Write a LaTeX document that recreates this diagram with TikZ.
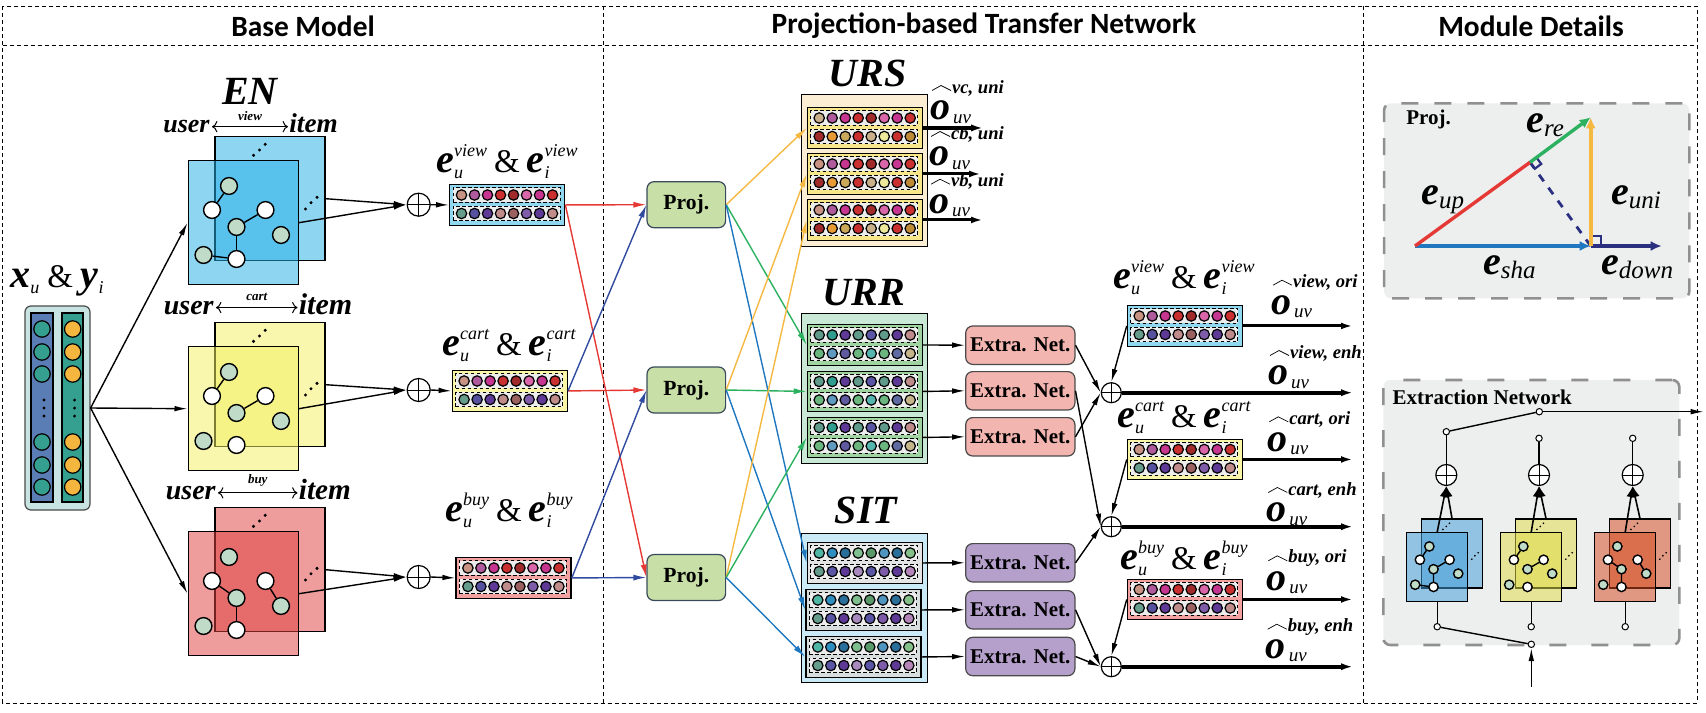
\documentclass[tikz,border=0pt]{standalone}
\usepackage{fontspec}
\setmainfont{Liberation Serif}
\newfontfamily\titlefont{Carlito}
\usetikzlibrary{arrows.meta}
\definecolor{ta}{HTML}{C99384}\definecolor{pu}{HTML}{B05A9E}\definecolor{ma}{HTML}{C6358F}
\definecolor{rd}{HTML}{C9302F}\definecolor{br}{HTML}{A12A2A}\definecolor{pk}{HTML}{D966A8}
\definecolor{gt}{HTML}{659C8C}\definecolor{iv}{HTML}{55519F}\definecolor{vi}{HTML}{5E3A96}
\definecolor{rs}{HTML}{C08B8B}\definecolor{mv}{HTML}{9B6060}\definecolor{lv}{HTML}{7F5CAA}
\definecolor{sd}{HTML}{C9B08A}\definecolor{og}{HTML}{E89A35}\definecolor{kh}{HTML}{C9A85A}
\definecolor{lm}{HTML}{EDE89A}\definecolor{oc}{HTML}{BE8A35}\definecolor{tl}{HTML}{5F9A8A}
\definecolor{sq}{HTML}{2F9E8F}\definecolor{sl}{HTML}{5A55A5}\definecolor{gr}{HTML}{6BB57F}
\definecolor{sk}{HTML}{5F9AC0}\definecolor{bv}{HTML}{5F5AA0}\definecolor{aq}{HTML}{55B5AF}
\definecolor{bs}{HTML}{5F6AA0}\definecolor{cr}{HTML}{C5B58A}\definecolor{cy}{HTML}{4FB5A5}
\definecolor{az}{HTML}{2F8EC0}\definecolor{nv}{HTML}{2A6F9A}\definecolor{lg}{HTML}{7FBF8F}
\definecolor{fg}{HTML}{5A9A6A}\definecolor{sb}{HTML}{4F95BF}\definecolor{ln}{HTML}{85C08A}
\definecolor{ll}{HTML}{A88ABF}\definecolor{mp}{HTML}{B585BA}
\definecolor{lred}{HTML}{E53935}\definecolor{lblue}{HTML}{2F4A9E}\definecolor{lyel}{HTML}{F5B942}
\definecolor{lgrn}{HTML}{2BB15F}\definecolor{lsky}{HTML}{1F77C0}\definecolor{lnavy}{HTML}{2A2F80}
\definecolor{c0dc}{HTML}{C0DCC8}\definecolor{c8e0}{HTML}{C8E0A8}\definecolor{slotgray}{HTML}{EDEDED}
\definecolor{boxedge}{HTML}{3A4A5A}\definecolor{netedge}{HTML}{4A4A4A}\definecolor{dgray}{HTML}{909090}
\definecolor{dfill}{HTML}{EDEEEE}\definecolor{c8e4}{HTML}{C8E4E2}\definecolor{colA}{HTML}{5B7DB5}
\definecolor{colB}{HTML}{35A08F}\definecolor{colC}{HTML}{F4B63F}\definecolor{mblue}{HTML}{27AFE6}
\definecolor{myel}{HTML}{F2EF61}\definecolor{mred}{HTML}{DE4141}\definecolor{dblue}{HTML}{419DD9}
\definecolor{dyel}{HTML}{E0DC48}\definecolor{dred}{HTML}{D54A20}\definecolor{c8d5}{HTML}{8FD8F0}
\definecolor{c8fa}{HTML}{FAF6A8}\definecolor{c8f2}{HTML}{F2A0A0}\definecolor{c8fb}{HTML}{FBEED5}
\definecolor{c8c9}{HTML}{C9E8D5}\definecolor{c8ca}{HTML}{C9EAF6}\definecolor{c8f8}{HTML}{F8E68A}
\definecolor{c89f}{HTML}{9FD3A0}\definecolor{c8dd}{HTML}{E4E4E4}\definecolor{c8d8}{HTML}{D8DEDE}
\definecolor{c8f5}{HTML}{F2B5B0}\definecolor{c8b5}{HTML}{B5A0CC}
\newcommand{\rowa}{ta,pu,ma,rd,br,pk,ma,rd}
\newcommand{\rowb}{gt,iv,vi,rs,mv,lv,vi,rs}
\newcommand{\rowc}{sd,pu,ma,rd,br,pk,ma,rd}
\newcommand{\rowd}{br,og,kh,rd,sd,lm,rd,oc}
\newcommand{\rowe}{tl,sq,vi,tl,sl,tl,vi,rs}
\newcommand{\rowf}{gr,sk,bv,gr,aq,gr,bs,cr}
\newcommand{\rowg}{cy,az,nv,lg,fg,sb,nv,ln}
\newcommand{\rowh}{gt,sl,vi,ll,sl,lv,vi,mp}
\newcommand{\fs}[1]{\fontsize{#1}{#1}\selectfont}
\newcommand{\ltr}[1]{{\fs{20}\bfseries\itshape #1}}
\newcommand{\supsub}[2]{\rlap{\raisebox{-3pt}{\fs{9}\itshape #2}}\raisebox{8pt}{\fs{9}\itshape #1}}
\tikzset{
 arr/.style={line width=.7pt,-{Latex[length=6.5pt,width=2.8pt]}},
 colarr/.style={line width=.7pt,-{Latex[length=6.5pt,width=3pt]}},
 bigarr/.style={line width=2pt,-{Latex[length=6pt,width=3.6pt]}},
 midarr/.style={line width=1.5pt,-{Latex[length=6pt,width=3.4pt]}},
 sheet/.style={draw,line width=.7pt,fill opacity=.52,minimum width=55pt,minimum height=62pt,inner sep=0},
 gnode/.style={circle,draw,fill=c0dc,minimum size=8.4pt,inner sep=0,line width=.7pt},
 wnode/.style={circle,draw,fill=white,minimum size=8.4pt,inner sep=0,line width=.7pt},
 oplus/.style={circle,draw,fill=white,inner sep=0,line width=.6pt,minimum size=#1,
  path picture={\draw[line width=.5pt] (path picture bounding box.north)--(path picture bounding box.south)
  (path picture bounding box.west)--(path picture bounding box.east);}},
 bar/.style={draw,line width=.7pt,anchor=north west,minimum width=57.5pt,minimum height=20.25pt,inner sep=0},
 slot/.style={draw,dash pattern=on 1.8pt off 1.2pt,fill=slotgray,line width=.45pt,minimum width=53.5pt,minimum height=7.4pt,inner sep=0},
 outer/.style={draw,line width=.7pt,minimum width=63pt,inner sep=0},
 projbox/.style={draw=boxedge,rounded corners=3.5pt,fill=c8e0,line width=.6pt,minimum width=39.3pt,minimum height=23pt,inner sep=0,font=\fs{10.8}\bfseries},
 netbox/.style={draw=netedge,rounded corners=3.5pt,line width=.6pt,minimum width=54.6pt,minimum height=19.2pt,inner sep=0,font=\fs{10.5}\bfseries},
 detail/.style={draw=dgray,fill=dfill,line width=1.3pt,rounded corners=3.5pt,inner sep=0},
 usr/.style={inner sep=0},
 big/.style={inner sep=0,font=\fs{20}\bfseries\itshape},
 small/.style={inner sep=0,font=\fs{6.5}\bfseries\itshape},
 head/.style={inner sep=0,font=\titlefont\fs{14.7}\bfseries},
 hole/.style={circle,draw,fill=white,minimum size=3.2pt,inner sep=0,line width=.5pt},
 vec/.style={line width=1.7pt,-{Latex[length=5.5pt,width=5pt]}},
}
\newcommand{\graphblock}[6]{%
\begin{scope}[shift={(#2,#3)},scale=#4,transform shape]
\node[sheet,fill=#5,anchor=north west] (#1b) at (26.7,-24) {};
\node[sheet,fill=#5,anchor=north west] (#1f) at (0,0) {};
\foreach \p in {(66,-4.7),(72,-10),(77.7,-15.7),(118,49),(123.5,42.7),(129.5,37.3)} \fill \p circle (.85pt);
\foreach \n/\xx/\yy/\s in {g1/41.5/26/gnode,w1/24.5/50/wnode,w2/78/50/wnode,g2/49/67/gnode,g3/93.5/75/gnode,g4/16/95/gnode,w3/49/99/wnode}
 \node[\s] (#1\n) at (\xx,\yy) {};
\foreach \a/\b in {#6} \draw[line width=.7pt] (#1\a)--(#1\b);
\end{scope}}
\newcommand{\embbar}[6]{%
\node[bar,fill=#4] (#1) at (#2,#3) {};
\begin{scope}[shift={(#2,#3)}]
\node[slot] (#1a) at (57.5,11) {};
\node[slot] (#1c) at (57.5,29.5) {};
\foreach \cc [count=\k from 0] in #5 {\filldraw[fill=\cc,line width=.6pt] (12.5+13*\k,11) circle (2.6pt);}
\foreach \cc [count=\k from 0] in #6 {\filldraw[fill=\cc,line width=.6pt] (12.5+13*\k,29.5) circle (2.6pt);}
\end{scope}}
\newcommand{\pairlab}[4]{\node[anchor=base,inner sep=0] (#1) at (#2,#3) {\ltr{e}\supsub{#4}{u}\hspace{3.5pt}{\fs{16.5}\&}\hspace{3.5pt}\ltr{e}\supsub{#4}{i}};}
\newcommand{\outlab}[4]{%
\draw[line width=.35pt] (#2,#3+2.5)--(#2+9,#3-2.5)--(#2+19,#3+2.5);
\node[anchor=west,inner sep=0,font=\fs{9.3}\bfseries\itshape] (#1s) at (#2+19.7,#3) {#4};
\node[inner sep=0,font=\fs{20}\bfseries\itshape] (#1o) at (#2+8,#3+22.5) {o};
\node[inner sep=0,font=\fs{9.5}\itshape] (#1u) at (#2+30,#3+31) {uv};}
\newcommand{\vlab}[4]{\node[anchor=base west,inner sep=0] (#1) at (#2,#3) {\ltr{e}\raisebox{-2pt}{\fs{12.5}\itshape #4}};}
\begin{document}
\begin{tikzpicture}[x=0.5pt,y=-0.5pt]
\useasboundingbox (0,0) rectangle (1706,712);
\draw[line width=.45pt,dash pattern=on 2pt off 1.5pt] (2.7,6) rectangle (1697,703) (2.7,45)--(1697,45) (603,6)--(603,703) (1363,6)--(1363,703);
\node[head] (tbase) at (303,26) {Base Model};
\node[head] (tproj) at (984,26) {Projection-based Transfer Network};
\node[head] (tmod) at (1531,26) {Module Details};
% input
\node[draw=netedge,fill=c8e4,rounded corners=3pt,line width=.6pt,minimum width=32.5pt,minimum height=102pt,inner sep=0] (inp) at (57.5,408) {};
\node[draw,fill=colA,line width=.7pt,minimum width=11pt,minimum height=94.5pt,inner sep=0] (cola) at (42,407.5) {};
\node[draw,fill=colB,line width=.7pt,minimum width=10.5pt,minimum height=94.5pt,inner sep=0] (colb) at (72.5,407.5) {};
\foreach \yy in {329,352,374,442,465,487} {\filldraw[fill=colB,line width=.6pt] (42,\yy) circle (4.1pt);\filldraw[fill=colC,line width=.6pt] (72.7,\yy) circle (4.1pt);}
\foreach \yy in {400,408,416} {\fill (44,\yy) circle (.8pt);\fill (74.6,\yy) circle (.8pt);}
\node[anchor=base,inner sep=0] (xy) at (57,287) {\ltr{x}\raisebox{-3pt}{\fs{9}\itshape u}\hspace{4pt}{\fs{16.5}\&}\hspace{4pt}\ltr{y}\raisebox{-3pt}{\fs{9}\itshape i}};
% graphs
\node[big] (en) at (250,91) {EN};
\graphblock{vw}{187.5}{160}{1}{mblue}{g1/w1,g2/w2,g2/w3,g4/w3}
\graphblock{ct}{187.5}{346}{1}{myel}{g1/w1,g2/w2}
\graphblock{by}{187.5}{531}{1}{mred}{w1/g2,w2/g3,g2/w3}
\foreach \nm/\ux/\ix/\yy/\lab/\szu/\szi in {a/210/289/132.7/view/13/13.6,b/214/298.5/314/cart/14/15,c/216/298.5/499.3/buy/14/14.6} {
\node[usr,anchor=base east,font=\fs{\szu}\bfseries\itshape] (usr\nm) at (\ux,\yy) {user};
\node[usr,anchor=base west,font=\fs{\szi}\bfseries\itshape] (itm\nm) at (\ix,\yy) {item};
\draw[<->,line width=.5pt] ([xshift=1pt]usr\nm.east)--([xshift=-.5pt]usr\nm.east-|itm\nm.west) node[small,midway,above=3pt] (rel\nm) {\lab};
}
\draw[arr] (inp.east)--(vwf.west);
\draw[arr] (inp.east)--(ctf.west);
\draw[arr] (inp.east)--(byf.west);
\node[oplus=11.5pt] (pa) at (418.7,204.7) {};
\node[oplus=11.5pt] (pb) at (418.7,390) {};
\node[oplus=11.5pt] (pc) at (418.7,577) {};
\embbar{ebv}{449}{184}{c8d5}{\rowa}{\rowb}
\embbar{ebc}{451.6}{370}{c8fa}{\rowa}{\rowb}
\embbar{ebb}{455.4}{557}{c8f2}{\rowa}{\rowb}
\pairlab{lbv}{507}{172.3}{view}
\pairlab{lbc}{509}{355}{cart}
\pairlab{lbb}{509}{521.7}{buy}
\foreach \s/\t/\e in {vw/pa/ebv,ct/pb/ebc,by/pc/ebb} {
\draw[arr] (\s b.east)--(\t.west);
\draw[arr] (\s f.east)--(\t.west);
\draw[arr] (\t.east)--(\e.west);
}
% projection
\node[projbox] (pr1) at (686.3,204.7) {Proj.};
\node[projbox] (pr2) at (686.3,390) {Proj.};
\node[projbox] (pr3) at (686.3,577.5) {Proj.};
\draw[colarr,lred] (ebv.east)--(pr1.west);
\draw[colarr,lred] (ebv.east)--(pr3.west);
\draw[colarr,lred] (ebc.east)--(pr2.west);
\draw[colarr,lblue] (ebc.east)--(pr1.west);
\draw[colarr,lblue] (ebb.east)--(pr2.west);
\draw[colarr,lblue] (ebb.east)--(pr3.west);
\node[big] (urs) at (867.5,73) {URS};
\node[big] (urr) at (864,293) {URR};
\node[big] (sit) at (866,510) {SIT};
\node[outer,fill=c8fb,minimum height=76.2pt] (bks) at (864.3,170.5) {};
\node[outer,fill=c8c9,minimum height=75pt] (bkr) at (864.3,388.3) {};
\node[outer,fill=c8ca,minimum height=74.5pt] (bkt) at (864.3,607.8) {};
\embbar{us1}{806.7}{107}{c8f8}{\rowc}{\rowd}
\embbar{us2}{806.7}{153}{c8f8}{\rowa}{\rowd}
\embbar{us3}{806.7}{199}{c8f8}{\rowa}{\rowd}
\embbar{ur1}{806.7}{324}{c89f}{\rowe}{\rowf}
\embbar{ur2}{806.7}{370.5}{c89f}{\rowe}{\rowf}
\embbar{ur3}{806.7}{416.5}{c89f}{\rowe}{\rowf}
\embbar{si1}{806.7}{542}{c8dd}{\rowg}{\rowh}
\embbar{si2}{805.3}{589}{c8d8}{\rowg}{\rowh}
\embbar{si3}{805.3}{636}{c8d8}{\rowg}{\rowh}
\foreach \k in {1,2,3} {
\draw[colarr,lyel] (pr\k.east)--(us\k.west);
\draw[colarr,lgrn] (pr\k.east)--(ur\k.west);
\draw[colarr,lsky] (pr\k.east)--(si\k.west);
}
\draw[bigarr] (us1.east)--++(60,0);
\draw[midarr] (us2.east)--++(58,0);
\draw[midarr] (us3.east)--++(60,0);
\outlab{ova}{932}{88}{vc, uni}
\outlab{ovb}{931}{134}{cb, uni}
\outlab{ovc}{931}{181.7}{vb, uni}
% extraction
\foreach \k/\yy in {1/345.2,2/390.8,3/436.8} {
\node[netbox,fill=c8f5] (nr\k) at (1020.3,\yy) {Extra. Net.};
\draw[arr] (ur\k.east)--(nr\k.west);
}
\foreach \k/\yy in {1/562.8,2/609.8,3/656.5} {
\node[netbox,fill=c8b5] (ns\k) at (1020.3,\yy) {Extra. Net.};
\draw[arr] (si\k.east)--(ns\k.west);
}
\node[oplus=10pt] (qa) at (1111.3,392.7) {};
\node[oplus=10pt] (qb) at (1111.3,526.7) {};
\node[oplus=10pt] (qc) at (1111.3,666.7) {};
\embbar{xbv}{1126.7}{305}{c8d5}{\rowa}{\rowb}
\embbar{xbc}{1126.7}{438.5}{c8fa}{\rowa}{\rowb}
\embbar{xbb}{1126.7}{578.5}{c8f2}{\rowa}{\rowb}
\draw[arr] (nr1.east)--(qa.west);
\draw[arr] (nr3.east)--(qa.west);
\draw[arr] (nr2.east)--(qb.west);
\draw[arr] (ns1.east)--(qb.west);
\draw[arr] (ns2.east)--(qc.west);
\draw[arr] (ns3.east)--(qc.west);
\draw[arr] (xbv.west)--(qa.north);
\draw[arr] (xbc.west)--(qb.north);
\draw[arr] (xbb.west)--(qc.north);
\coordinate (xend) at (1353,0);
\foreach \t in {qa,qb,qc} \draw[bigarr] (\t.east)--(\t.east-|xend);
\foreach \t in {xbv,xbc,xbb} \draw[midarr] (\t.east)--(\t.east-|xend);
\pairlab{lxv}{1184}{288}{view}
\pairlab{lxc}{1184}{427.7}{cart}
\pairlab{lxb}{1184}{569}{buy}
\outlab{oa}{1273}{282.7}{view, ori}
\outlab{ob}{1270}{353}{view, enh}
\outlab{oc}{1269.3}{419.3}{cart, ori}
\outlab{od}{1268.3}{490}{cart, enh}
\outlab{oe}{1268.3}{558.3}{buy, ori}
\outlab{of}{1267.7}{626.7}{buy, enh}
% module details
\node[detail,dash pattern=on 8.5pt off 8pt,minimum width=152.6pt,minimum height=97.5pt] (dproj) at (1536.7,200.8) {};
\node[inner sep=0,font=\fs{10.5}\bfseries] (dplab) at (1428.5,119.5) {Proj.};
\coordinate (va) at (1415,246);
\coordinate (vb) at (1530,162.3);
\coordinate (vc) at (1590.7,117.3);
\coordinate (vd) at (1590.7,246);
\coordinate (ve) at (1661.7,246);
\draw[lnavy,line width=1.4pt,dash pattern=on 4pt off 4pt] (vd)--(vb);
\draw[lnavy,line width=1.2pt] (vd)++(0,-10)--++(10,0)--++(0,10);
\draw[lnavy,line width=1.1pt] (vb)--(1536.4,157.5)--(1541.2,163.9)--(1534.8,168.7)--cycle;
\draw[vec,lnavy] (vd)--(ve);
\draw[vec,lsky] (va)--(vd);
\draw[lred,line width=1.7pt] (va)--(vb);
\draw[vec,lyel,line width=2pt] (vd)--(vc);
\draw[vec,lgrn] (vb)--(vc);
\vlab{lre}{1526}{132.7}{re}
\vlab{lup}{1421}{204}{up}
\vlab{lsha}{1482.7}{274}{sha}
\vlab{luni}{1610.7}{204}{uni}
\vlab{ldown}{1600.7}{274}{down}
\node[detail,dash pattern=on 8.5pt off 12.5pt,minimum width=148pt,minimum height=132.5pt] (dext) at (1531.3,512.5) {};
\node[anchor=west,inner sep=0,font=\fs{10.5}\bfseries] (dxlab) at (1392.3,397.3) {Extraction Network};
\graphblock{da}{1406.3}{532}{.555}{dblue}{w1/g1,w2/g2,g2/w3,g4/w3}
\graphblock{db}{1500.3}{532}{.555}{dyel}{g1/w1,g2/w2}
\graphblock{dc}{1594.3}{532}{.555}{dred}{w1/g2,w2/g3,g2/w3}
\coordinate (dlow) at (0,626.7);
\foreach \t/\xx/\s/\yy in {a/1446.3/da/431.7,b/1539/db/438.3,c/1632.7/dc/438.3} {
\node[oplus=10.5pt] (dp\t) at (\xx,475) {};
\node[hole] (du\t) at (\xx,\yy) {};
\node[hole] (dd\t) at (\s f.south|-dlow) {};
\draw[line width=.7pt] (dp\t.north)--(du\t);
\draw[line width=.7pt] (\s f.south)--(dd\t);
\draw[line width=.8pt,-{Latex[length=5.5pt,width=4.5pt]}] (\s f.north)--(dp\t.south);
\draw[line width=.8pt,-{Latex[length=5.5pt,width=4.5pt]}] (\s b.north)--(dp\t.south);
}
\node[hole] (dout) at (1539.3,411.7) {};
\node[hole] (din) at (1531.3,644.3) {};
\coordinate (dend) at (1703.7,411.7);
\coordinate (dstart) at (1531.3,686.7);
\draw[line width=.7pt] (dua)--(dout);
\draw[arr] (dout)--(dend);
\draw[line width=.7pt] (dda)--(din);
\draw[arr] (dstart)--(din);
\end{tikzpicture}
\end{document}
